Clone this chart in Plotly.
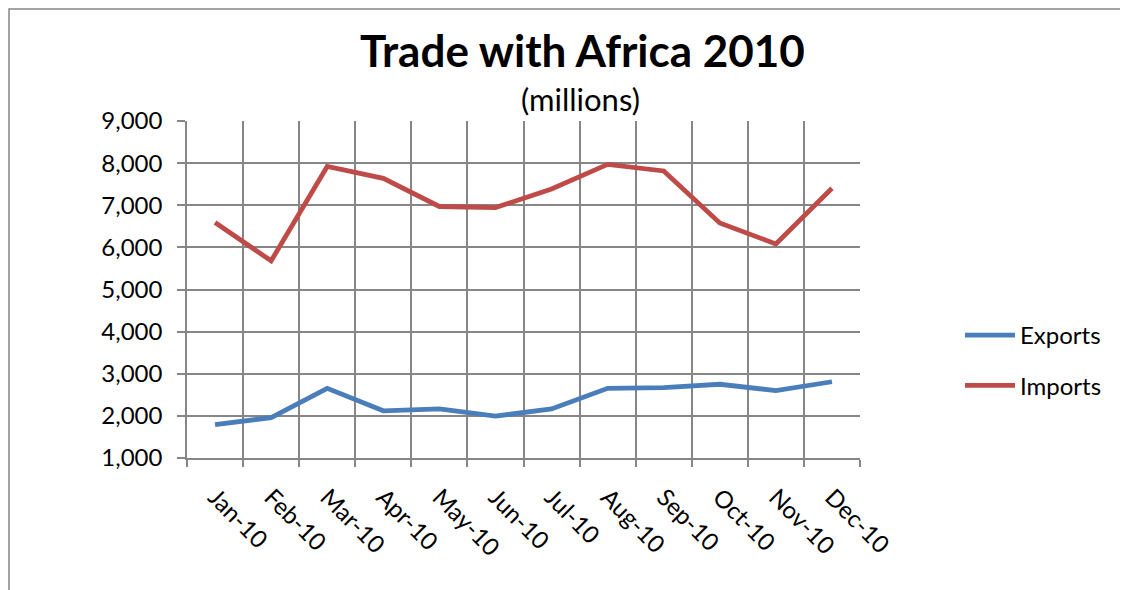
import plotly.graph_objects as go

months = ["Jan-10", "Feb-10", "Mar-10", "Apr-10", "May-10", "Jun-10",
          "Jul-10", "Aug-10", "Sep-10", "Oct-10", "Nov-10", "Dec-10"]
exports = [1790, 1960, 2655, 2120, 2165, 1995, 2165, 2655, 2670, 2750, 2600, 2810]
imports = [6590, 5680, 7920, 7640, 6970, 6945, 7385, 7970, 7815, 6580, 6080, 7405]

OFF = 8  # default page body margin
W, H = 1128 - OFF, 590 - OFF
L, R, T, B = 187 - OFF, 860 - OFF, 121 - OFF, 458 - OFF
FONT = "Lato"
GRID = "#868686"

def px(xp):
    return (xp - OFF - L) / (R - L)

def py(yp):
    return (B - (yp - OFF)) / (B - T)

fig = go.Figure()
fig.add_trace(go.Scatter(x=months, y=exports, mode="lines", name="Exports",
                         legendgroup="e",
                         line=dict(color="#4A7EBB", width=4.8)))
fig.add_trace(go.Scatter(x=months, y=imports, mode="lines", name="Imports",
                         legendgroup="i",
                         line=dict(color="#BE4B48", width=4.8)))

fig.update_layout(
    width=W, height=H,
    margin=dict(l=L, r=W - R, t=T, b=H - B, pad=0),
    paper_bgcolor="white", plot_bgcolor="white",
    font=dict(family=FONT, size=24, color="black"),
    showlegend=True,
    legend=dict(x=px(960), y=py(313), xanchor="left", yanchor="top",
                traceorder="grouped", tracegroupgap=16,
                font=dict(family=FONT, size=24, color="black"),
                itemwidth=50, bgcolor="rgba(0,0,0,0)"),
    xaxis=dict(type="category", range=[-0.5, 11.5], tickson="boundaries",
               showgrid=True, gridcolor=GRID, gridwidth=1.5,
               showline=True, linecolor=GRID, linewidth=1.5,
               ticks="outside", ticklen=7, tickcolor=GRID, tickwidth=1.5,
               tickangle=45, ticklabelstandoff=14,
               tickfont=dict(family=FONT, size=24, color="black"),
               zeroline=False, fixedrange=True),
    yaxis=dict(range=[1000, 9000], dtick=1000, tick0=1000, tickformat=",",
               showgrid=True, gridcolor=GRID, gridwidth=1.5,
               showline=True, linecolor=GRID, linewidth=1.5,
               ticks="outside", ticklen=8, tickcolor=GRID, tickwidth=1.5,
               ticklabelstandoff=10,
               tickfont=dict(family=FONT, size=24, color="black"),
               zeroline=False, fixedrange=True),
    annotations=[
        dict(text="<b>Trade with Africa 2010</b>", xref="paper", yref="paper",
             x=px(582), y=py(50), xanchor="center", yanchor="middle",
             showarrow=False, font=dict(family=FONT, size=44, color="black")),
        dict(text="(millions)", xref="paper", yref="paper",
             x=px(580), y=py(99), xanchor="center", yanchor="middle",
             showarrow=False, font=dict(family=FONT, size=31, color="black")),
    ],
    shapes=[
        dict(type="rect", xref="paper", yref="paper",
             x0=px(9), y0=py(640), x1=px(1180), y1=py(9),
             line=dict(color=GRID, width=1.5), fillcolor="rgba(0,0,0,0)",
             layer="below"),
    ],
)

fig.write_html("out.html")
